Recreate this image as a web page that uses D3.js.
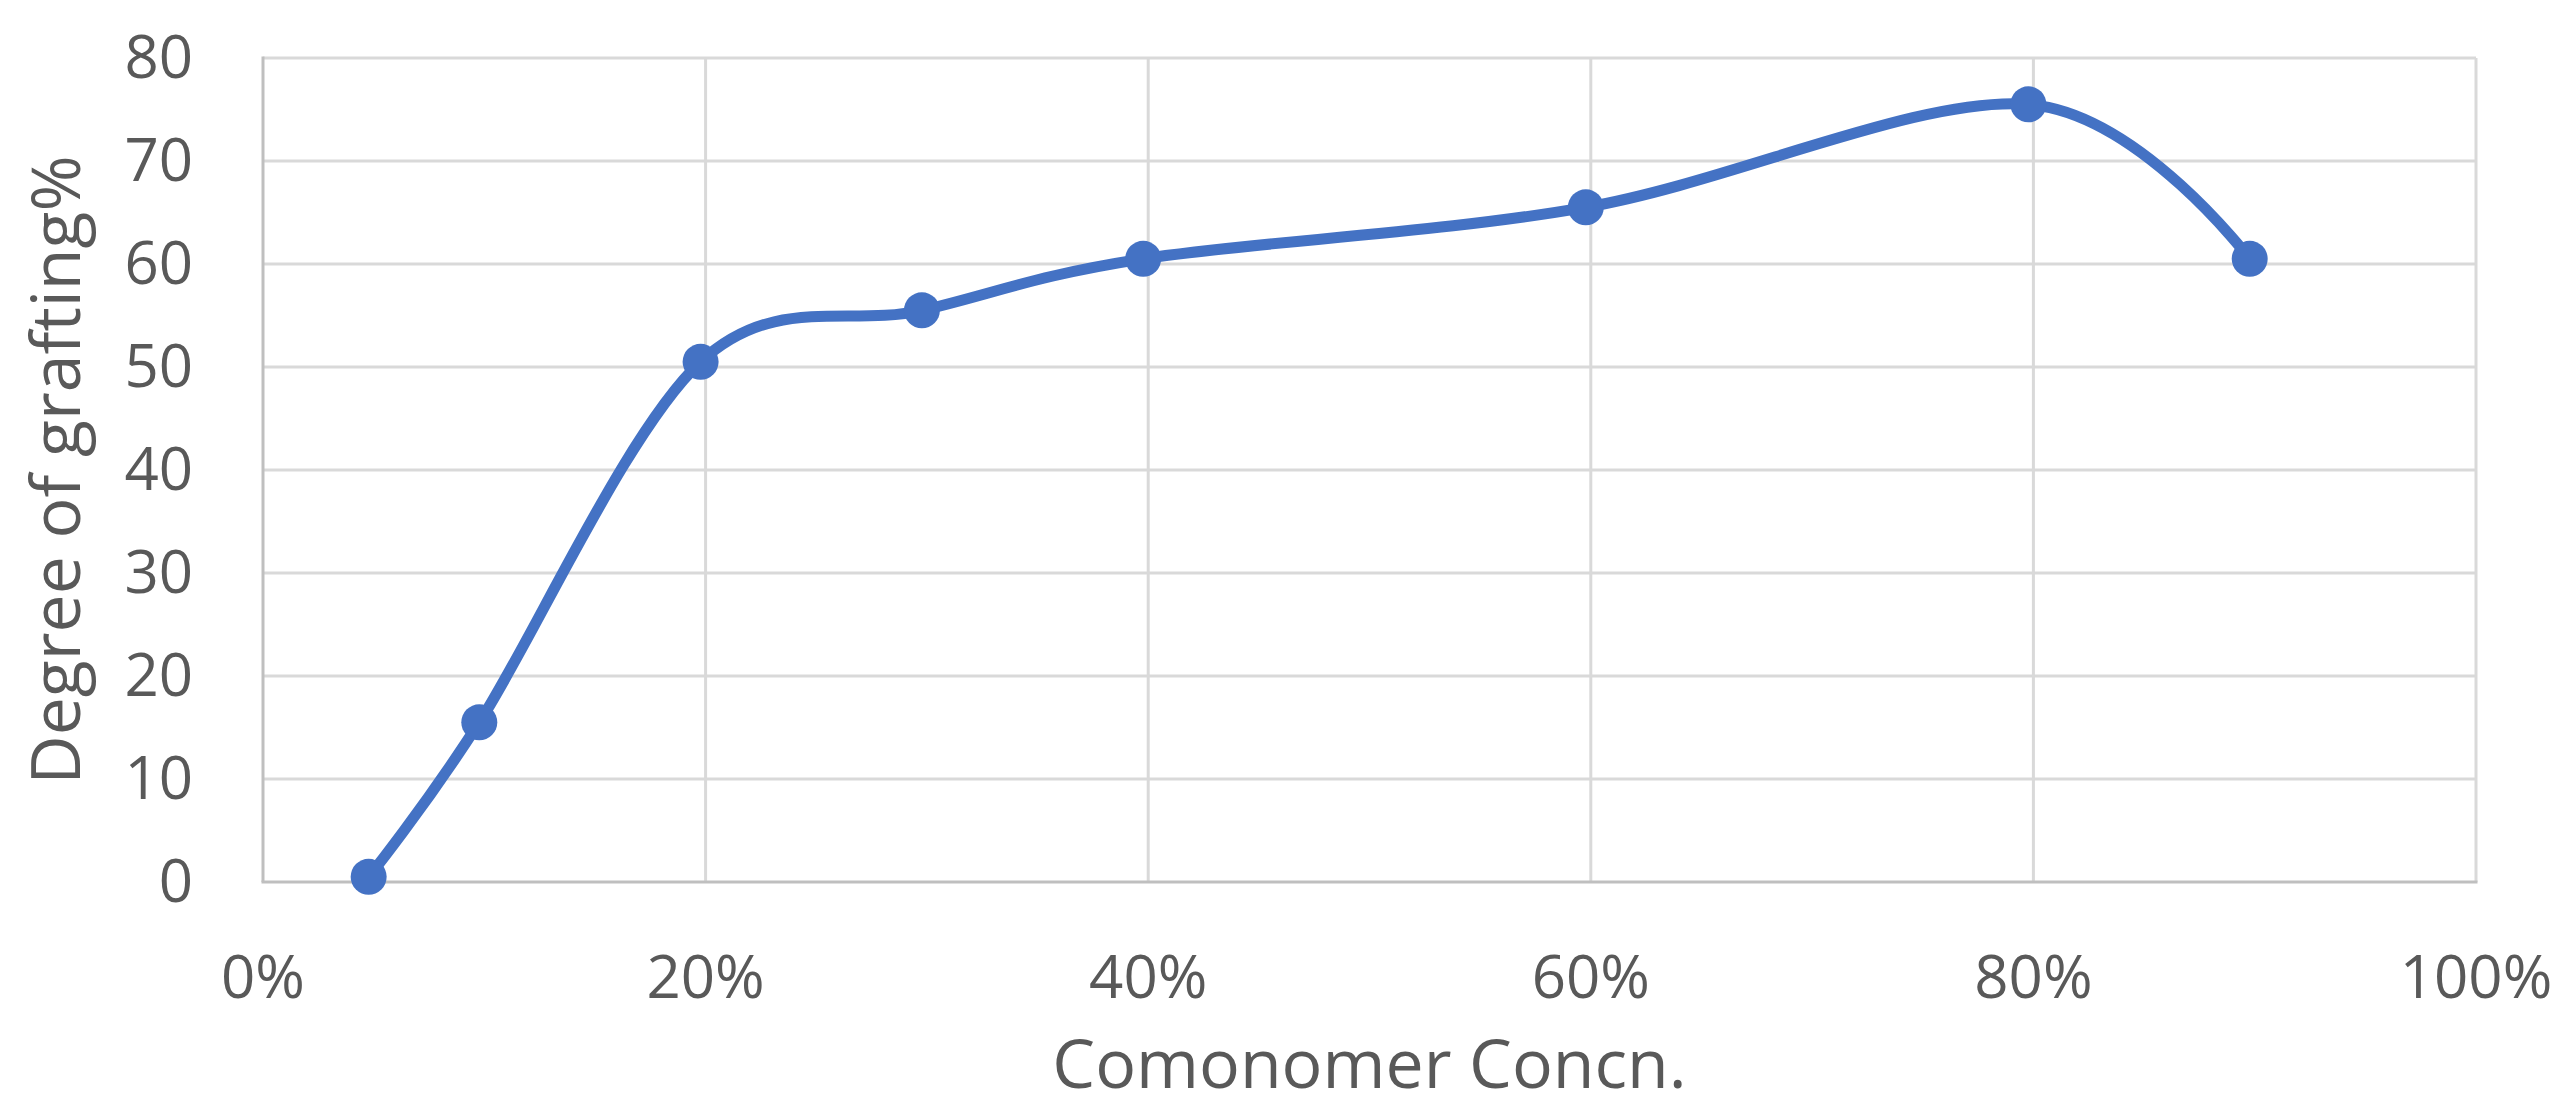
<!DOCTYPE html>
<html lang="en">
<head>
  <meta charset="utf-8">
  <script src="https://cdn.jsdelivr.net/npm/d3@7"></script>
  <style>
    body{margin:0;background:white;}
    text{font-family:"Open Sans",sans-serif;fill:#595959;}
  </style>
</head>
<body>
  <div id="chart"></div>
  <script type="text/javascript">
    // data
    var concentration=[5,10,20,30,40,60,80,90];
    var grafting=[0.5,15.5,50.5,55.5,60.5,65.5,75.5,60.5];
    var xTicks=[0,20,40,60,80,100];
    var yTicks=[0,10,20,30,40,50,60,70,80];

    var width=2568;
    var height=1109;
    var plotLeft=263, plotRight=2476, plotTop=58, plotBottom=882;

    var svg=d3.select("#chart")
      .append("svg")
      .attr("width",width)
      .attr("height",height);

    var x=d3.scaleLinear().domain([0,100]).range([plotLeft,plotRight]);
    var y=d3.scaleLinear().domain([0,80]).range([plotBottom,plotTop]);

    //gridlines
    svg.append("g")
      .selectAll("line")
      .data(yTicks.slice(1))
      .enter()
      .append("line")
      .attr("x1",plotLeft)
      .attr("x2",plotRight)
      .attr("y1",d=>y(d))
      .attr("y2",d=>y(d))
      .style("stroke","#d9d9d9")
      .style("stroke-width",3);

    svg.append("g")
      .selectAll("line")
      .data(xTicks.slice(1))
      .enter()
      .append("line")
      .attr("x1",d=>x(d))
      .attr("x2",d=>x(d))
      .attr("y1",plotTop)
      .attr("y2",plotBottom)
      .style("stroke","#d9d9d9")
      .style("stroke-width",3);

    //axis lines
    svg.append("line")
      .attr("x1",plotLeft).attr("x2",plotLeft)
      .attr("y1",plotTop-1.5).attr("y2",plotBottom)
      .style("stroke","#bfbfbf")
      .style("stroke-width",3);
    svg.append("line")
      .attr("x1",plotLeft-1.5).attr("x2",plotRight+1.5)
      .attr("y1",plotBottom).attr("y2",plotBottom)
      .style("stroke","#bfbfbf")
      .style("stroke-width",3);

    //tick labels
    svg.append("g")
      .selectAll("text")
      .data(yTicks)
      .enter()
      .append("text")
      .attr("x",plotLeft-70)
      .attr("y",d=>y(d)+20)
      .style("text-anchor","end")
      .style("font-size","60px")
      .text(d=>d);

    svg.append("g")
      .selectAll("text")
      .data(xTicks)
      .enter()
      .append("text")
      .attr("x",d=>x(d))
      .attr("y",998)
      .style("text-anchor","middle")
      .style("font-size","60px")
      .text(d=>d+"%");

    //axis titles
    svg.append("text")
      .attr("x",(plotLeft+plotRight)/2)
      .attr("y",1088)
      .style("text-anchor","middle")
      .style("font-size","68px")
      .text("Comonomer Concn.");

    svg.append("text")
      .attr("transform","translate(80,"+((plotTop+plotBottom)/2)+") rotate(-90)")
      .style("text-anchor","middle")
      .style("font-size","68px")
      .text("Degree of grafting%");

    //smoothed line (series sits a few px left of the grid in the original)
    var points=concentration.map((c,i)=>[c,grafting[i]]);

    var series=svg.append("g")
      .attr("transform","translate(-5,0)");

    var line=d3.line()
      .x(d=>x(d[0]))
      .y(d=>y(d[1]))
      .curve(d3.curveCardinal.tension(0));

    series.append("path")
      .datum(points)
      .attr("d",line)
      .style("fill","none")
      .style("stroke","#4472c4")
      .style("stroke-width",11)
      .style("stroke-linejoin","round");

    series.selectAll("circle")
      .data(points)
      .enter()
      .append("circle")
      .attr("cx",d=>x(d[0]))
      .attr("cy",d=>y(d[1]))
      .attr("r",18)
      .style("fill","#4472c4");
  </script>
</body>
</html>
